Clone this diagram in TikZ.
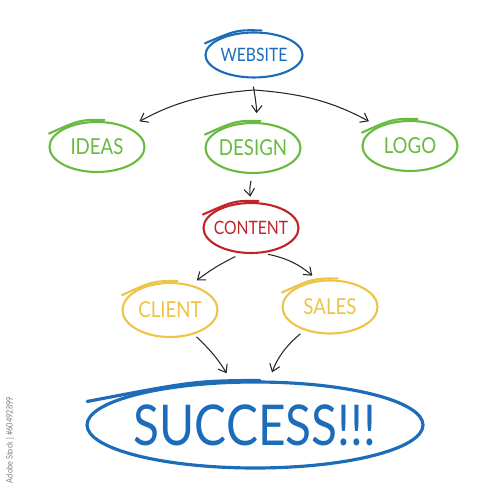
\documentclass[tikz,border=0pt]{standalone}
\usepackage{fontspec}
\setmainfont{Lato}[FakeStretch=0.85]
\usetikzlibrary{shapes.geometric,arrows.meta,calc}

\definecolor{penblue}{RGB}{28,108,185}
\definecolor{pengreen}{RGB}{104,186,64}
\definecolor{penred}{RGB}{192,36,40}
\definecolor{penyellow}{RGB}{236,196,72}

\newcommand\ringtext[1]{\makebox[0pt]{#1}}

\begin{document}
\begin{tikzpicture}
    \useasboundingbox (0,0) rectangle (10,10);
    \tikzset{VertexStyle/.style={ellipse, draw, line width=1.2pt, inner sep=0pt,
        minimum width=1.9cm, minimum height=1.0cm, font=\fontsize{12.5}{13}\selectfont}}
    \tikzset{EdgeStyle/.style={-{Straight Barb[length=4pt,width=6pt]}, line width=0.6pt, black!85}}

    \node[VertexStyle, penblue, minimum width=1.94cm, minimum height=0.9cm, font=\fontsize{10.5}{11}\selectfont] (website) at (5.08,8.9) {\ringtext{WEBSITE}};

    \node[VertexStyle, pengreen] (ideas)  at (1.94,7.06) {\ringtext{IDEAS}};
    \node[VertexStyle, pengreen] (design) at (5.06,7.04) {\ringtext{DESIGN}};
    \node[VertexStyle, pengreen] (logo)   at (8.20,7.08) {\ringtext{LOGO}};

    \node[VertexStyle, penred, font=\fontsize{10.5}{11}\selectfont] (content) at (5.02,5.44) {\ringtext{CONTENT}};

    \node[VertexStyle, penyellow, minimum height=1.08cm] (client) at (3.40,3.80) {\ringtext{CLIENT}};
    \node[VertexStyle, penyellow, minimum height=1.06cm] (sales)  at (6.60,3.86) {\ringtext{SALES}};

    \node[VertexStyle, penblue, line width=1.8pt, minimum width=6.72cm, minimum height=1.72cm,
        font=\fontsize{32}{34}\selectfont] (success) at (5.10,1.50) {\ringtext{SUCCESS!!!}};

    % pen overshoot at the top of each ring
    \foreach \v/\c in {website/penblue, ideas/pengreen, design/pengreen, logo/pengreen,
                      content/penred, client/penyellow, sales/penyellow}
        \draw[\c, line width=1.2pt, line cap=round]
            ($(\v.north west)!-0.2!(\v.north east)+(0,-0.1)$)
            .. controls ($(\v.north)!0.5!(\v.north west)+(0,0.1)$) .. ($(\v.north)+(0.15,0.02)$);
    \draw[penblue, line width=1.8pt, line cap=round]
        ($(success.north west)!-0.2!(success.north east)+(0,-0.16)$)
        .. controls ($(success.north)!0.5!(success.north west)+(0,0.12)$) .. ($(success.north)+(0.1,0.0)$);

    \coordinate (split) at (5.08,8.2);
    \draw[EdgeStyle, shorten >=7pt] (split) to[bend right=12] (ideas);
    \draw[EdgeStyle, shorten >=6pt] (split) to[bend left=12] (logo);
    \draw[EdgeStyle, shorten <=-2pt, shorten >=5pt] (split) to[bend left=6] (design);

    \draw[EdgeStyle, shorten <=4pt, shorten >=3pt] (design.south) to[bend right=12] (content.north);
    \draw[EdgeStyle, shorten <=4pt, shorten >=4pt] (content.250) to[bend right=6] (client.50);
    \draw[EdgeStyle, shorten <=3pt, shorten >=4pt] (content.295) to[bend left=15] (sales.115);
    \draw[EdgeStyle, shorten <=2pt, shorten >=5pt] (client) to[bend left=8] (success);
    \draw[EdgeStyle, shorten <=3pt, shorten >=5pt] (sales) to[bend right=15] (success);

    \node[rotate=90, gray, font=\fontsize{5}{6}\selectfont] (stock) at (0.2,1.2) {Adobe Stock | \#60492899};
\end{tikzpicture}
\end{document}
